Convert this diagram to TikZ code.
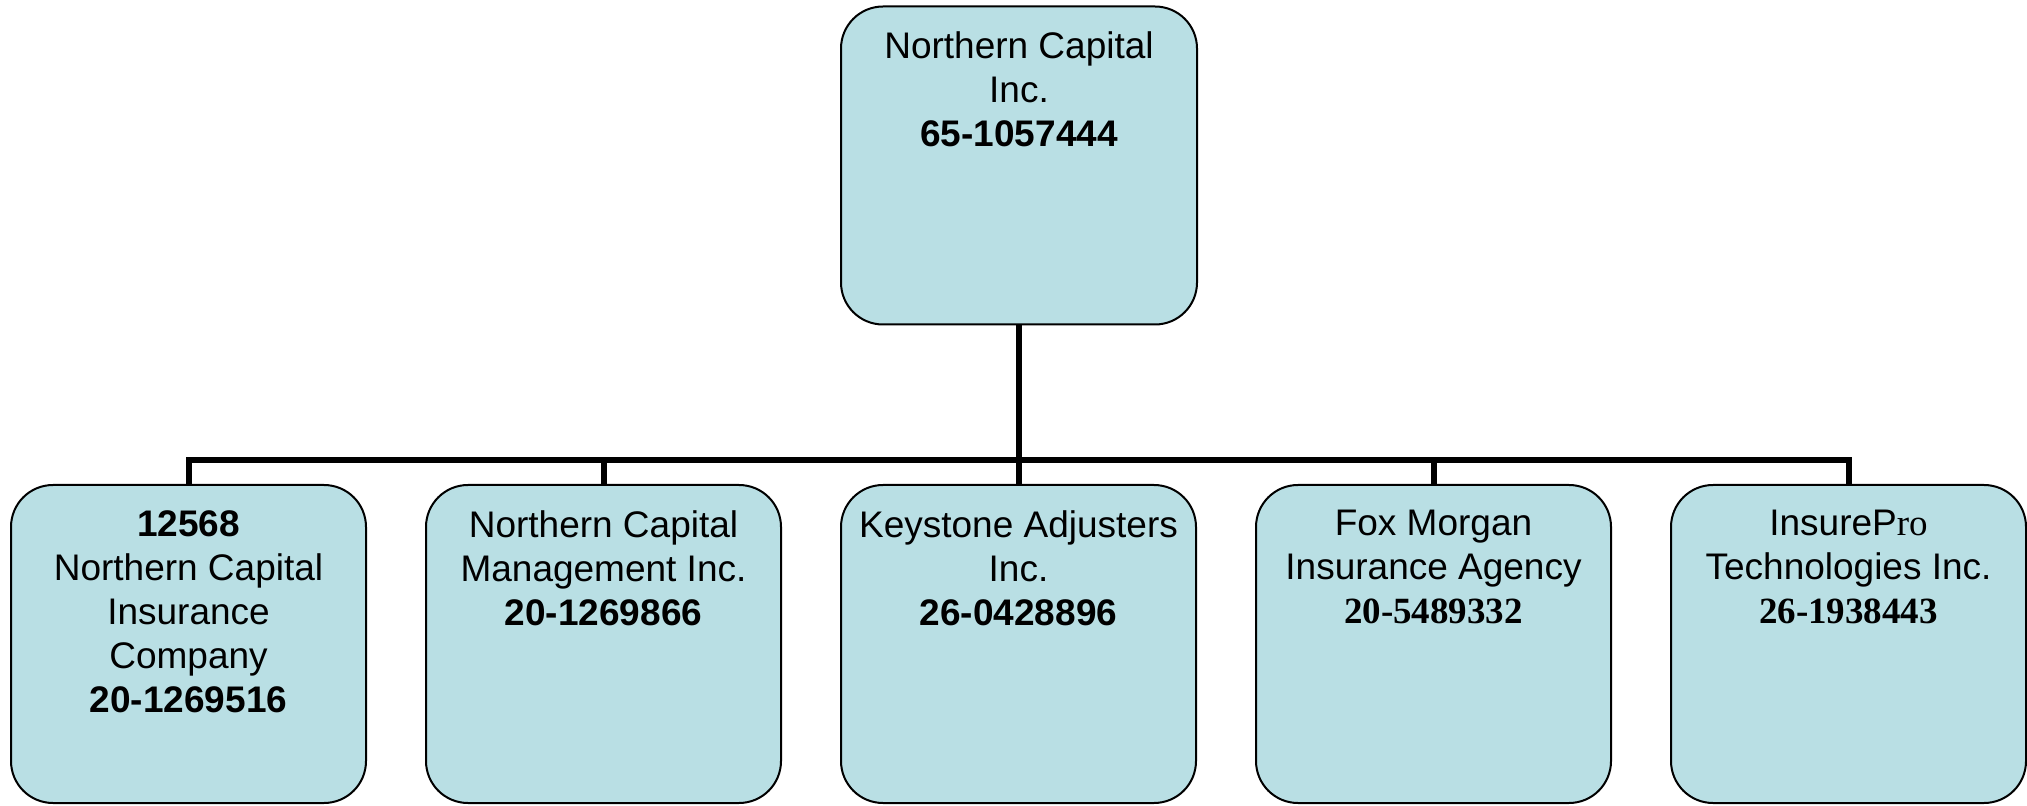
\documentclass[tikz,border=0pt]{standalone}
\usepackage{fontspec}
\setmainfont{Liberation Sans}
\newfontfamily\timesfont{Liberation Serif}
\usetikzlibrary{positioning}

\definecolor{boxfill}{RGB}{185,223,228}

\tikzset{
	orgbox/.style={draw=black, line width=1pt, fill=boxfill, rounded corners=21pt,
		minimum width=177.5pt, minimum height=159pt, inner sep=0pt},
	orgtext/.style={align=center, inner sep=0pt, font=\fontsize{18.5}{22}\selectfont},
	link/.style={line width=3pt}
}

\begin{document}
\begin{tikzpicture}[x=0.5pt, y=-0.5pt]
\useasboundingbox (0,0) rectangle (2027,806);

\pgfmathsetmacro{\orgTop}{165.5}
\pgfmathsetmacro{\orgLow}{644}
\pgfmathsetmacro{\orgBus}{460}
\pgfmathsetmacro{\orgGap}{415}

\node[orgbox, minimum width=178pt] (nc) at (1019,\orgTop) {};
\foreach \i in {1,...,5}
	\node[orgbox] (b\i) at ({188.5+(\i-1)*\orgGap},\orgLow) {};

\node[orgtext, below=13pt of nc.north] (ncT) {Northern Capital\\Inc.\\\textbf{65-1057444}};
\node[orgtext, below=13pt of b1.north] (b1T) {\textbf{12568}\\Northern Capital\\Insurance\\Company\\\textbf{20-1269516}};
\node[orgtext, below=13pt of b2.north] (b2T) {Northern Capital\\Management Inc.\\\textbf{20-1269866}};
\node[orgtext, below=13pt of b3.north] (b3T) {Keystone Adjusters\\Inc.\\\textbf{26-0428896}};
\node[orgtext, below=13pt of b4.north] (b4T) {Fox Morgan\\Insurance Agency\\{\timesfont\bfseries 20-5489332}};
\node[orgtext, below=13pt of b5.north] (b5T) {InsureP{\timesfont ro}\\Technologies Inc.\\{\timesfont\bfseries 26-1938443}};

\coordinate (bus) at (1019,\orgBus);
\foreach \i in {1,...,5}
	\draw[link] (nc.south) -- (bus) -| (b\i.north);
\end{tikzpicture}
\end{document}
